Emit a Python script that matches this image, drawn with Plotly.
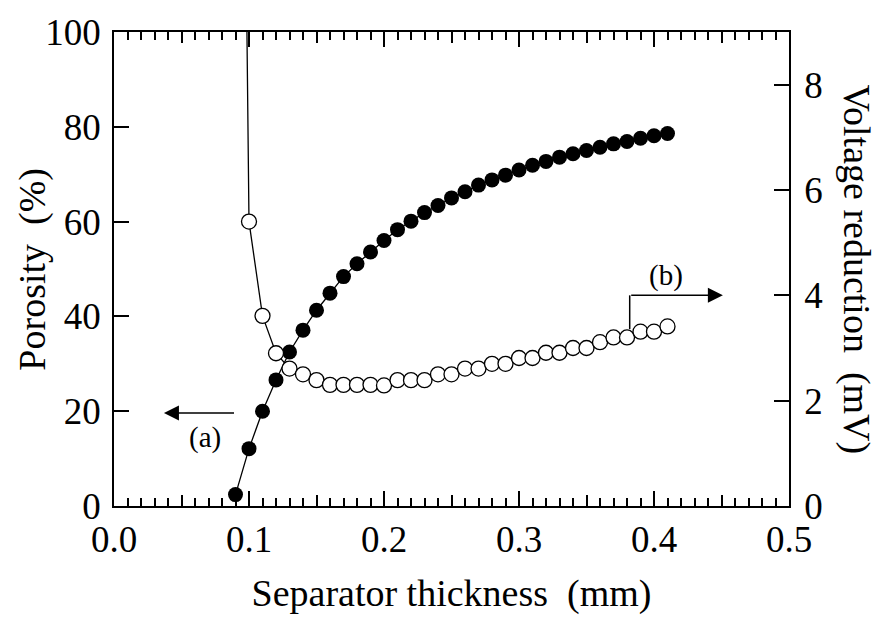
import plotly.graph_objects as go

# Separator thickness (mm)
thickness = [0.09, 0.10, 0.11, 0.12, 0.13, 0.14, 0.15, 0.16, 0.17, 0.18, 0.19,
             0.20, 0.21, 0.22, 0.23, 0.24, 0.25, 0.26, 0.27, 0.28, 0.29, 0.30,
             0.31, 0.32, 0.33, 0.34, 0.35, 0.36, 0.37, 0.38, 0.39, 0.40, 0.41]

# (a) Porosity (%)
porosity = [2.4, 12.1, 20.0, 26.6, 32.5, 37.1, 41.3, 44.9, 48.4, 51.1, 53.6,
            56.0, 58.3, 60.1, 61.9, 63.4, 65.0, 66.3, 67.7, 68.8, 69.8, 70.9,
            71.9, 72.7, 73.6, 74.3, 75.0, 75.7, 76.4, 76.9, 77.6, 78.1, 78.6]

# (b) Voltage reduction (mV); the first value lies far above the axis range
voltage = [29.0, 5.40, 3.61, 2.90, 2.61, 2.50, 2.39, 2.30, 2.30, 2.30, 2.30,
           2.29, 2.39, 2.39, 2.39, 2.50, 2.50, 2.61, 2.61, 2.70, 2.70, 2.81,
           2.81, 2.91, 2.91, 3.00, 3.00, 3.11, 3.20, 3.20, 3.31, 3.31, 3.41]

x_ticks = [0.0, 0.1, 0.2, 0.3, 0.4, 0.5]
x_tick_text = ["0.0", "0.1", "0.2", "0.3", "0.4", "0.5"]
x_mid_ticks = [0.05, 0.15, 0.25, 0.35, 0.45]
x_minor_ticks = [i / 100 for i in range(1, 50) if i % 5 != 0]
left_ticks = [0, 20, 40, 60, 80, 100]
right_ticks = [0, 2, 4, 6, 8]

FONT = "Liberation Serif, Times New Roman, serif"
NB = "\u00a0"

fig = go.Figure()

# empty traces so the extra tick-only x axes get drawn
for ax_name in ("x3", "x4"):
    fig.add_trace(go.Scatter(x=[], y=[], xaxis=ax_name, yaxis="y",
                             showlegend=False, hoverinfo="skip"))

fig.add_trace(go.Scatter(
    x=thickness, y=voltage, yaxis="y2", mode="lines+markers",
    line=dict(color="black", width=1.3),
    marker=dict(symbol="circle", size=15, color="white",
                line=dict(color="black", width=1.3)),
    showlegend=False, cliponaxis=True,
))
fig.add_trace(go.Scatter(
    x=thickness, y=porosity, yaxis="y", mode="lines+markers",
    line=dict(color="black", width=1.3),
    marker=dict(symbol="circle", size=15, color="black",
                line=dict(color="black", width=0)),
    showlegend=False,
))

axis_font = dict(family=FONT, size=37, color="black")
TICK_W = 1.5

fig.update_layout(
    width=882, height=626,
    margin=dict(l=114, r=93, t=25, b=120),
    paper_bgcolor="white", plot_bgcolor="white",
    font=dict(family=FONT, color="black"),
    xaxis=dict(
        range=[0, 0.5], tickvals=x_ticks, ticktext=x_tick_text,
        ticks="inside", ticklen=15, tickwidth=TICK_W, tickcolor="black",
        showline=True, linecolor="black", linewidth=1.8, mirror="ticks",
        showgrid=False, zeroline=False, tickfont=axis_font,
        ticklabelstandoff=0,
        title=dict(text="Separator thickness" + NB + NB + "(mm)",
                   font=dict(family=FONT, size=38), standoff=20),
    ),
    # medium ticks every 0.05, on bottom and top
    xaxis3=dict(
        range=[0, 0.5], overlaying="x", anchor="y", tickvals=x_mid_ticks,
        ticks="inside", ticklen=11, tickwidth=TICK_W, tickcolor="black",
        showticklabels=False, showline=False, showgrid=False, zeroline=False,
        mirror="ticks",
    ),
    # minor ticks every 0.01, on bottom and top
    xaxis4=dict(
        range=[0, 0.5], overlaying="x", anchor="y", tickvals=x_minor_ticks,
        ticks="inside", ticklen=8, tickwidth=TICK_W, tickcolor="black",
        showticklabels=False, showline=False, showgrid=False, zeroline=False,
        mirror="ticks",
    ),
    yaxis=dict(
        range=[0, 100], tickvals=left_ticks,
        ticks="inside", ticklen=15, tickwidth=TICK_W, tickcolor="black",
        showline=True, linecolor="black", linewidth=1.8,
        showgrid=False, zeroline=False, tickfont=axis_font,
        ticklabelstandoff=4,
    ),
    yaxis2=dict(
        range=[0, 9], tickvals=right_ticks, overlaying="y", side="right",
        anchor="x",
        ticks="inside", ticklen=15, tickwidth=TICK_W, tickcolor="black",
        showline=True, linecolor="black", linewidth=1.8,
        showgrid=False, zeroline=False, tickfont=axis_font,
        ticklabelstandoff=6,
    ),
)

# Axis titles (left reads upward, right reads downward)
fig.add_annotation(text="Porosity" + NB + NB + "(%)", xref="paper", yref="paper",
                   x=-0.122, y=0.5, xanchor="center", yanchor="middle",
                   textangle=-90, showarrow=False,
                   font=dict(family=FONT, size=38, color="black"))
fig.add_annotation(text="Voltage reduction" + NB + NB + "(mV)", xref="paper", yref="paper",
                   x=1.1, y=0.5, xanchor="center", yanchor="middle",
                   textangle=90, showarrow=False,
                   font=dict(family=FONT, size=38, color="black"))

# (a) arrow pointing to the left axis
fig.add_annotation(x=0.037, y=19.6, xref="x", yref="y", ax=0.090, ay=19.6,
                   axref="x", ayref="y", showarrow=True, arrowhead=2,
                   arrowsize=2.0, arrowwidth=1.5, arrowcolor="black", text="")
fig.add_annotation(x=0.0674, y=14.4, xref="x", yref="y", text="(a)", showarrow=False,
                   font=dict(family=FONT, size=29, color="black"))

# (b) bent arrow pointing to the right axis
fig.add_shape(type="line", xref="x", yref="y2", x0=0.382, y0=3.36, x1=0.382, y1=4.0,
              line=dict(color="black", width=1.5))
fig.add_annotation(x=0.451, y=4.0, xref="x", yref="y2", ax=0.382, ay=4.0,
                   axref="x", ayref="y2", showarrow=True, arrowhead=2,
                   arrowsize=2.0, arrowwidth=1.5, arrowcolor="black", text="")
fig.add_annotation(x=0.409, y=4.38, xref="x", yref="y2", text="(b)", showarrow=False,
                   font=dict(family=FONT, size=29, color="black"))

fig.write_html("out.html")
